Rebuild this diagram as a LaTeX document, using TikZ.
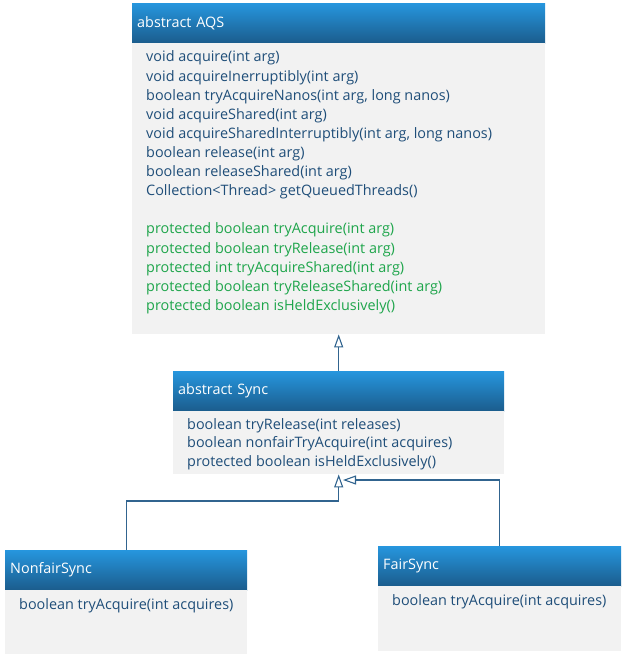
\documentclass[tikz,border=0pt]{standalone}
\usepackage{fontspec}
\setmainfont{Open Sans}
\usetikzlibrary{arrows.meta}
\definecolor{hdtop}{RGB}{38,150,222}
\definecolor{hdbot}{RGB}{27,92,140}
\definecolor{bodyfill}{RGB}{242,242,242}
\definecolor{txtblue}{RGB}{31,78,121}
\definecolor{txtgreen}{RGB}{30,165,75}
\definecolor{linecol}{RGB}{49,100,143}
\tikzset{
  hdr/.style={anchor=north west, top color=hdtop, bottom color=hdbot, draw=none,
    minimum height=40pt, inner xsep=5pt, inner ysep=0pt, align=left,
    text=white, font=\fontsize{14.4}{16}\selectfont},
  bodybox/.style={anchor=north west, fill=bodyfill, draw=none, inner sep=0pt},
  mline/.style={anchor=base west, inner sep=0pt, text=txtblue, font=\fontsize{14.4}{16}\selectfont},
  pline/.style={mline, text=txtgreen},
  inh/.style={draw=linecol, line width=1.1pt, -{Triangle[open,length=13pt,width=9pt,line width=1.1pt]}}
}
\begin{document}
\begin{tikzpicture}[x=1pt,y=-1pt]
\useasboundingbox (0,0) rectangle (624,658);
% AQS
\node[hdr, minimum width=413pt, text width=403pt] (aqs) at (132,3) {abstract AQS};
\node[bodybox, minimum width=413pt, minimum height=291pt] (aqsb) at (132,43) {};
\foreach \t [count=\i] in {{void acquire(int arg)},{void acquireInerruptibly(int arg)},
  {boolean tryAcquireNanos(int arg, long nanos)},{void acquireShared(int arg)},
  {void acquireSharedInterruptibly(int arg, long nanos)},{boolean release(int arg)},
  {boolean releaseShared(int arg)},{Collection<Thread> getQueuedThreads()}}
  \node[mline] (aqsl\i) at (146,{62+(\i-1)*19.1}) {\t};
\foreach \t [count=\i] in {{protected boolean tryAcquire(int arg)},{protected boolean tryRelease(int arg)},
  {protected int tryAcquireShared(int arg)},{protected boolean tryReleaseShared(int arg)},
  {protected boolean isHeldExclusively()}}
  \node[pline] (aqsp\i) at (146,{233.9+(\i-1)*19.1}) {\t};
% Sync
\node[hdr, minimum width=331pt, text width=321pt] (sync) at (173,371) {abstract Sync};
\node[bodybox, minimum width=331pt, minimum height=63pt] (syncb) at (173,411) {};
\foreach \t [count=\i] in {{boolean tryRelease(int releases)},{boolean nonfairTryAcquire(int acquires)},
  {protected boolean isHeldExclusively()}}
  \node[mline] (syncl\i) at (187,{429+(\i-1)*18.6}) {\t};
% NonfairSync
\node[hdr, minimum width=242pt, text width=232pt] (nf) at (5,550) {NonfairSync};
\node[bodybox, minimum width=242pt, minimum height=64pt] (nfb) at (5,590) {};
\node[mline] (nfl1) at (19,609) {boolean tryAcquire(int acquires)};
% FairSync
\node[hdr, minimum width=243pt, text width=233pt] (fs) at (378,546) {FairSync};
\node[bodybox, minimum width=243pt, minimum height=65pt] (fsb) at (378,586) {};
\node[mline] (fsl1) at (392,605) {boolean tryAcquire(int acquires)};
% connectors
\coordinate (fairend) at (343,480);
\draw[inh] (sync.north) -- (aqsb.south);
\draw[inh] (nf.north) -- ++(0,-49) -| (syncb.south);
\draw[inh] (fs.north) |- (fairend);
\end{tikzpicture}
\end{document}
